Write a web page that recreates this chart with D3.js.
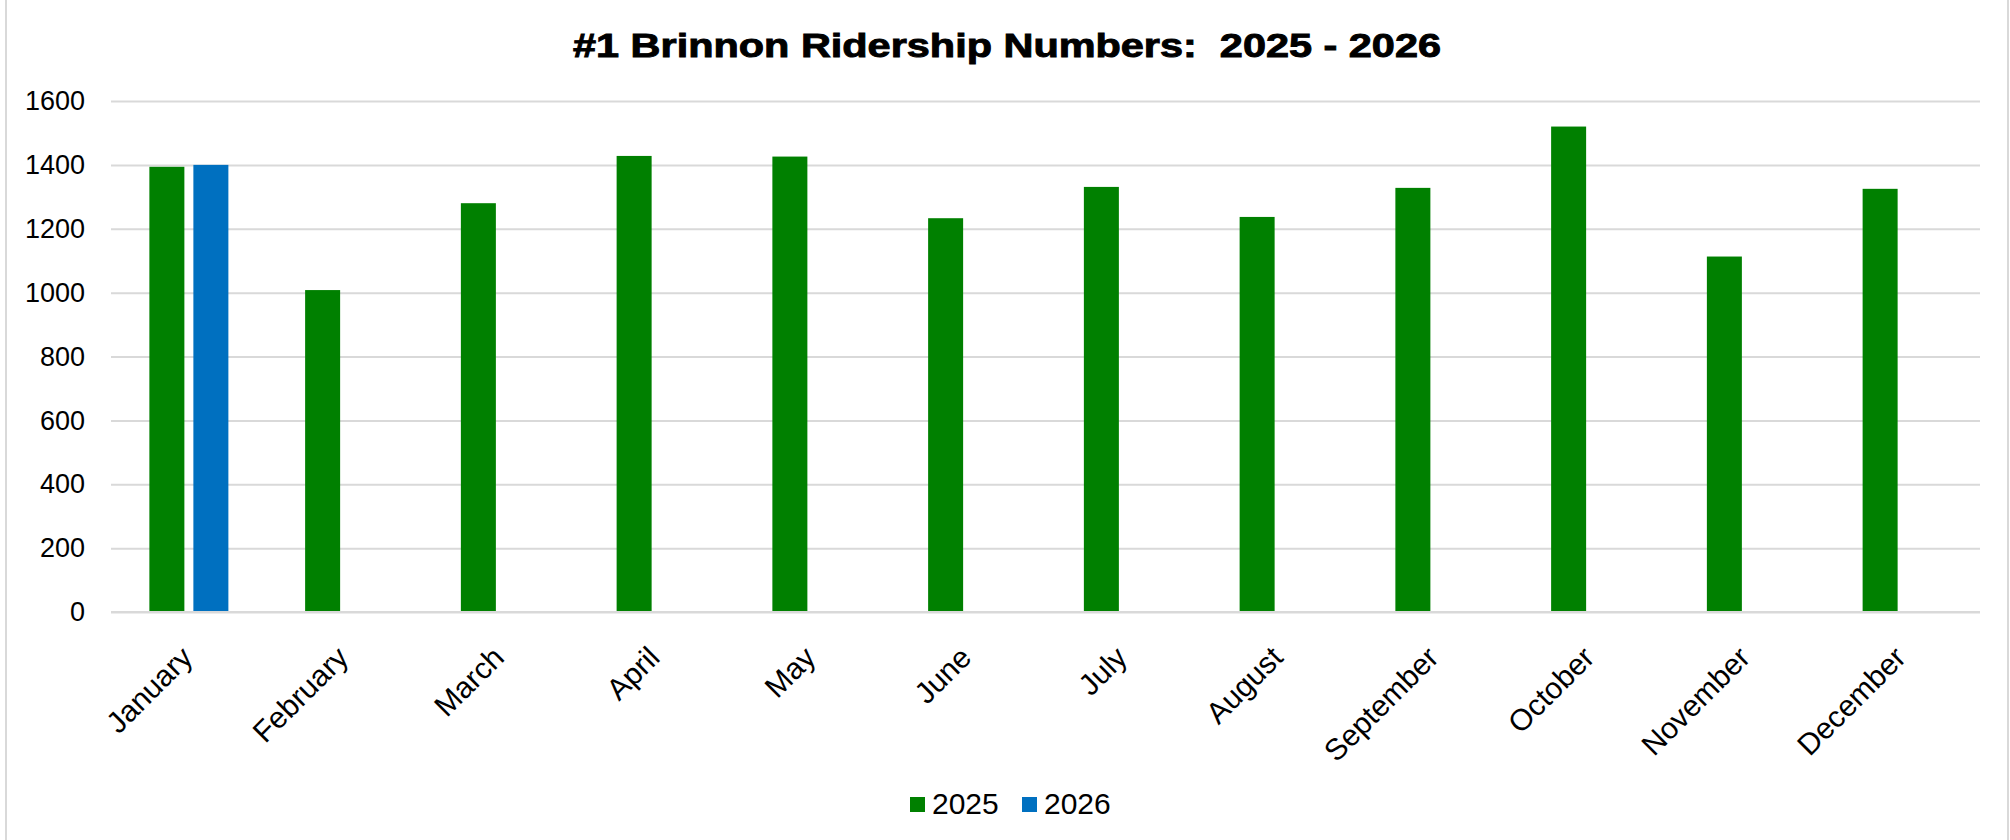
<!DOCTYPE html>
<html>
<head>
<meta charset="utf-8">
<script src="https://cdn.jsdelivr.net/npm/d3@7"></script>
<style>
  html, body { margin: 0; padding: 0; background: #fff; }
  svg { display: block; font-family: Arial, "Liberation Sans", sans-serif; }
</style>
</head>
<body>
<svg id="chart" width="2010" height="840"></svg>
<script>
const titleText = "#1 Brinnon Ridership Numbers:  2025 - 2026";
const months = ["January","February","March","April","May","June","July","August","September","October","November","December"];
const seriesNames = ["2025","2026"];
const values2025 = [1394, 1008, 1280, 1428, 1426, 1233, 1331, 1237, 1328, 1520, 1113, 1325];
const values2026 = [1400, null, null, null, null, null, null, null, null, null, null, null];
const yTicks = [0, 200, 400, 600, 800, 1000, 1200, 1400, 1600];
const colors = ["#008000", "#0070C0"];

const W = 2010, H = 840;
const plotL = 111, plotR = 1980, plotT = 101, plotB = 612;

const svg = d3.select("#chart");

// outer chart border (left/right visible)
svg.append("rect")
  .attr("x", 6).attr("y", -2).attr("width", 2002).attr("height", H + 4)
  .attr("fill", "none").attr("stroke", "#d9d9d9").attr("stroke-width", 2);

const x0 = d3.scaleBand().domain(months).range([plotL, plotR]).paddingInner(0).paddingOuter(0);
const x1 = d3.scaleBand().domain(seriesNames).range([0, x0.bandwidth()])
  .paddingInner(0.2045).paddingOuter(0.872);
const y = d3.scaleLinear().domain([0, 1600]).range([plotB, plotT]);

// gridlines + y labels
const yAxis = d3.axisLeft(y).tickValues(yTicks).tickSize(-(plotR - plotL)).tickPadding(26).tickFormat(d3.format("d"));
const gy = svg.append("g").attr("transform", `translate(${plotL},0)`).call(yAxis);
gy.select(".domain").remove();
gy.selectAll(".tick line").attr("stroke", "#d9d9d9").attr("stroke-width", 2);
gy.selectAll(".tick text").attr("font-size", 27).attr("fill", "#000")
  .attr("font-family", "Arial, 'Liberation Sans', sans-serif");

// bars
const rows = months.map((m, i) => ({ month: m, vals: [values2025[i], values2026[i]] }));
const groups = svg.append("g").selectAll("g").data(rows).join("g")
  .attr("transform", d => `translate(${x0(d.month)},0)`);
groups.selectAll("rect")
  .data(d => d.vals.map((v, j) => ({ key: seriesNames[j], v, j })).filter(e => e.v != null))
  .join("rect")
  .attr("x", e => x1(e.key))
  .attr("width", x1.bandwidth())
  .attr("y", e => y(e.v))
  .attr("height", e => y(0) - y(e.v))
  .attr("fill", e => colors[e.j]);

// x axis baseline
svg.append("line").attr("x1", plotL).attr("x2", plotR).attr("y1", plotB).attr("y2", plotB)
  .attr("stroke", "#d9d9d9").attr("stroke-width", 2);

// x labels
const xAxis = d3.axisBottom(x0).tickSize(0).tickPadding(0);
const gx = svg.append("g").attr("transform", `translate(0,${plotB})`).call(xAxis);
gx.select(".domain").remove();
gx.selectAll(".tick text")
  .attr("font-size", 30).attr("fill", "#000")
  .attr("font-family", "Arial, 'Liberation Sans', sans-serif")
  .attr("text-anchor", "end")
  .attr("dy", "0.35em")
  .attr("transform", "translate(-2,40) rotate(-45)");

// title
svg.append("text").attr("x", 1007).attr("y", 57).attr("text-anchor", "middle")
  .attr("xml:space", "preserve").style("white-space", "pre")
  .attr("font-size", 33).attr("font-weight", "bold").attr("fill", "#000")
  .attr("stroke", "#000").attr("stroke-width", 0.9)
  .attr("textLength", 868).attr("lengthAdjust", "spacingAndGlyphs")
  .text(titleText);

// legend
const legend = svg.append("g").attr("transform", "translate(910,797)");
const legItems = legend.selectAll("g").data(seriesNames).join("g")
  .attr("transform", (d, i) => `translate(${i * 112},0)`);
legItems.append("rect").attr("width", 15).attr("height", 15).attr("fill", (d, i) => colors[i]);
legItems.append("text").attr("x", 22).attr("y", 17).attr("font-size", 30).attr("fill", "#000")
  .text(d => d);
</script>
</body>
</html>
